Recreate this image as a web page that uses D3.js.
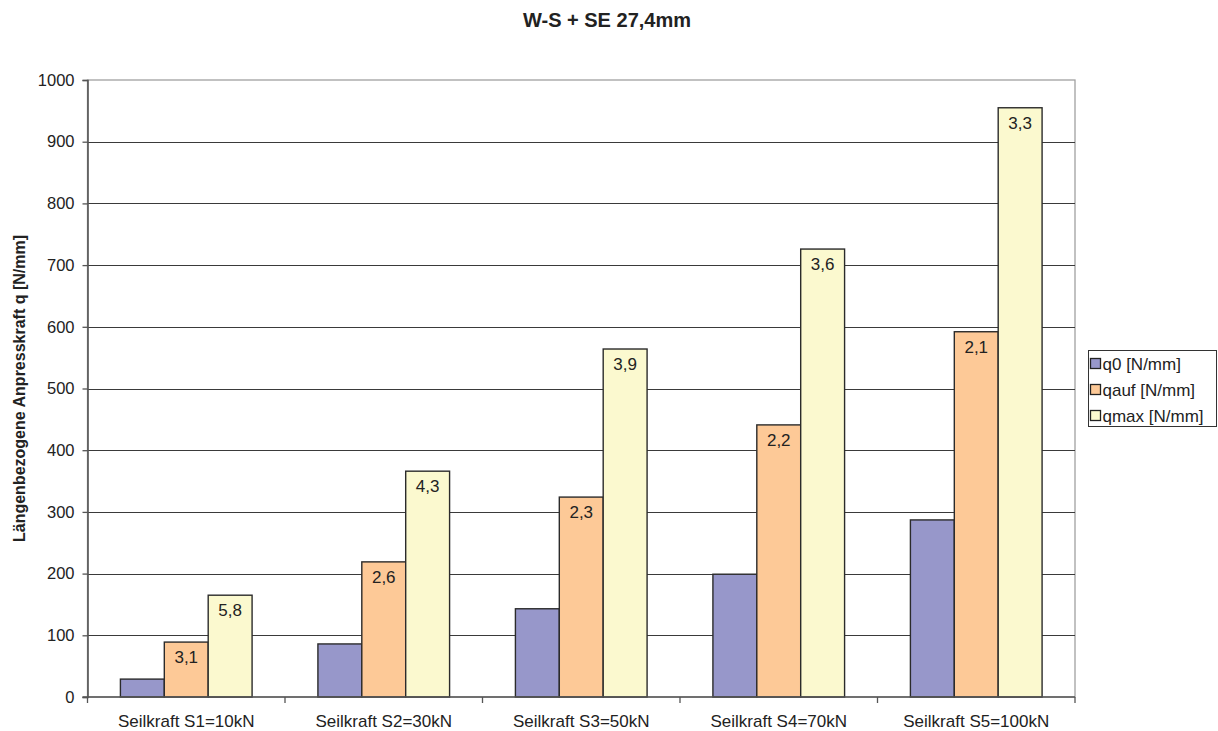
<!DOCTYPE html>
<html>
<head>
<meta charset="utf-8">
<script src="https://cdn.jsdelivr.net/npm/d3@7"></script>
<style>
  body { margin: 0; background: #fff; }
  svg { display: block; font-family: "Liberation Sans", Arial, sans-serif; }
</style>
</head>
<body>
<svg id="chart" width="1218" height="731"></svg>
<script>
// Load groups along the x axis
const categories = ["Seilkraft S1=10kN", "Seilkraft S2=30kN", "Seilkraft S3=50kN", "Seilkraft S4=70kN", "Seilkraft S5=100kN"];
const seriesNames = ["q0 [N/mm]", "qauf [N/mm]", "qmax [N/mm]"];
// Values per series, one entry per category
const q0 = [29, 86, 143, 199, 287];
const qauf = [89, 219, 324, 441, 592];
const qmax = [165, 366, 564, 726, 955];
// Ratio labels printed inside the bars (q0 has none)
const qaufLabels = ["3,1", "2,6", "2,3", "2,2", "2,1"];
const qmaxLabels = ["5,8", "4,3", "3,9", "3,6", "3,3"];
const yTicks = [0, 100, 200, 300, 400, 500, 600, 700, 800, 900, 1000];

const colors = ["#9797ca", "#fdc997", "#fbf9cf"];
const seriesValues = [q0, qauf, qmax];
const seriesLabels = [null, qaufLabels, qmaxLabels];

const svg = d3.select("#chart");
const plot = { left: 87.5, right: 1075, top: 80, bottom: 697 };

const x = d3.scaleBand().domain(categories).range([plot.left, plot.right]).paddingInner(0).paddingOuter(0);
const xInner = d3.scaleBand().domain(seriesNames).range([0, x.bandwidth()]).paddingInner(0).paddingOuter(0.75);
const y = d3.scaleLinear().domain([0, 1000]).range([plot.bottom, plot.top]);

// Title
svg.append("text")
  .attr("x", 607).attr("y", 27)
  .attr("text-anchor", "middle")
  .attr("font-size", 20).attr("font-weight", "bold")
  .attr("fill", "#222")
  .text("W-S + SE 27,4mm");

// Plot frame (top/right) in gray
svg.append("rect")
  .attr("x", plot.left).attr("y", plot.top)
  .attr("width", plot.right - plot.left).attr("height", plot.bottom - plot.top)
  .attr("fill", "none").attr("stroke", "#a0a0a0").attr("stroke-width", 1.3);

// Gridlines
svg.append("g").selectAll("line")
  .data(yTicks.filter(d => d > 0 && d < 1000))
  .join("line")
  .attr("x1", plot.left).attr("x2", plot.right)
  .attr("y1", d => Math.round(y(d)) + 0.5).attr("y2", d => Math.round(y(d)) + 0.5)
  .attr("stroke", "#3a3a3a").attr("stroke-width", 1);

// Bars
const groups = svg.append("g").selectAll("g")
  .data(categories)
  .join("g")
  .attr("transform", d => `translate(${x(d)},0)`);

seriesNames.forEach((name, si) => {
  groups.append("rect")
    .attr("x", (d, i) => xInner(name))
    .attr("y", (d, i) => y(seriesValues[si][i]))
    .attr("width", xInner.bandwidth())
    .attr("height", (d, i) => y(0) - y(seriesValues[si][i]))
    .attr("fill", colors[si])
    .attr("stroke", "#2b2b2b").attr("stroke-width", 1.4);
  if (seriesLabels[si]) {
    groups.append("text")
      .attr("x", xInner(name) + xInner.bandwidth() / 2)
      .attr("y", (d, i) => y(seriesValues[si][i]) + 21)
      .attr("text-anchor", "middle")
      .attr("font-size", 17).attr("fill", "#222")
      .text((d, i) => seriesLabels[si][i]);
  }
});

// Y axis
const yAxis = d3.axisLeft(y).tickValues(yTicks).tickSize(5).tickPadding(8).tickFormat(d3.format("d"));
const yg = svg.append("g").attr("transform", `translate(${plot.left},0)`).call(yAxis);
yg.select(".domain").attr("stroke", "#555").attr("stroke-width", 1.6);
yg.selectAll(".tick line").attr("stroke", "#555").attr("stroke-width", 1.3);
yg.selectAll(".tick text").attr("font-size", 16.5).attr("fill", "#222")
  .attr("font-family", "Liberation Sans, Arial, sans-serif");

// X axis with ticks at category boundaries
const xg = svg.append("g").attr("transform", `translate(0,${plot.bottom})`);
xg.append("line").attr("x1", plot.left - 5).attr("x2", plot.right)
  .attr("y1", 0).attr("y2", 0).attr("stroke", "#555").attr("stroke-width", 1.6);
xg.selectAll("line.tick")
  .data(categories.concat(["end"]))
  .join("line").attr("class", "tick")
  .attr("x1", (d, i) => i < categories.length ? x(d) : plot.right)
  .attr("x2", (d, i) => i < categories.length ? x(d) : plot.right)
  .attr("y1", 0).attr("y2", 6).attr("stroke", "#555").attr("stroke-width", 1.3);
xg.selectAll("text")
  .data(categories)
  .join("text")
  .attr("x", d => x(d) + x.bandwidth() / 2)
  .attr("y", 30)
  .attr("text-anchor", "middle")
  .attr("font-size", 17).attr("fill", "#222")
  .text(d => d);

// Y axis title
svg.append("text")
  .attr("transform", `translate(25,${(plot.top + plot.bottom) / 2}) rotate(-90)`)
  .attr("text-anchor", "middle")
  .attr("font-size", 16).attr("font-weight", "bold").attr("fill", "#222")
  .text("Längenbezogene Anpresskraft q [N/mm]");

// Legend
const legend = svg.append("g").attr("transform", "translate(1088.5,350.5)");
legend.append("rect").attr("width", 128).attr("height", 76)
  .attr("fill", "#fff").attr("stroke", "#333");
seriesNames.forEach((name, i) => {
  const cy = 13 + i * 26;
  legend.append("rect").attr("x", 2).attr("y", cy - 5).attr("width", 10).attr("height", 10)
    .attr("fill", colors[i]).attr("stroke", "#222").attr("stroke-width", 1.3);
  legend.append("text").attr("x", 14).attr("y", cy + 6)
    .attr("font-size", 17).attr("fill", "#222").text(name);
});
</script>
</body>
</html>
